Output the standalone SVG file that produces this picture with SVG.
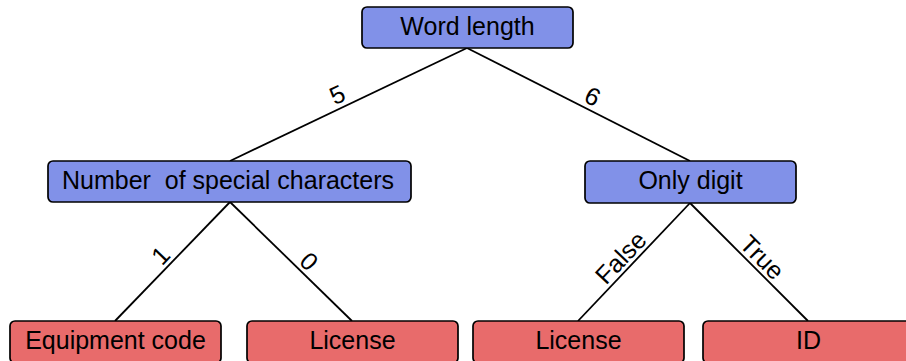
<svg xmlns="http://www.w3.org/2000/svg" width="906" height="361" viewBox="0 0 906 361">
  <style>
    .node rect { stroke: #000; stroke-width: 1.7; }
    .split rect { fill: #8191e8; }
    .leaf rect { fill: #e86b6b; }
    .node text, .lbl { font-family: "Liberation Sans", Arial, sans-serif; font-size: 25px; fill: #000; }
    .node text { text-anchor: middle; }
    .lbl { text-anchor: middle; }
    .edges line { stroke: #000; stroke-width: 1.8; }
  </style>

  <!-- connectors with their branch labels -->
  <g id="edges" class="edges">
    <line x1="467" y1="48" x2="230" y2="161"/>
    <line x1="467" y1="48" x2="690" y2="161"/>
    <line x1="230" y1="202" x2="115" y2="321"/>
    <line x1="230" y1="202" x2="352" y2="321"/>
    <line x1="690" y1="203" x2="578" y2="321"/>
    <line x1="690" y1="203" x2="808" y2="321"/>
    <text class="lbl" transform="translate(348.5,104.5) rotate(-25.5)" x="-6" y="-5">5</text>
    <text class="lbl" transform="translate(578.5,104.5) rotate(26.9)" x="9" y="-5">6</text>
    <text class="lbl" transform="translate(172.5,261.5) rotate(-46)" x="-4" y="-4">1</text>
    <text class="lbl" transform="translate(291,261.5) rotate(44.3)" x="13" y="-4">0</text>
    <text class="lbl" transform="translate(634,262) rotate(-46.5)" x="-6" y="-4">False</text>
    <text class="lbl" transform="translate(749,262) rotate(45)" x="6" y="-4">True</text>
  </g>

  <!-- decision nodes -->
  <g id="word-length" class="node split">
    <rect x="362" y="7" width="211" height="41" rx="5"/>
    <text x="467.5" y="35">Word length</text>
  </g>
  <g id="special-chars" class="node split">
    <rect x="48" y="161" width="363" height="41" rx="5"/>
    <text x="228" y="189" xml:space="preserve">Number  of special characters</text>
  </g>
  <g id="only-digit" class="node split">
    <rect x="585" y="161" width="211" height="42" rx="5"/>
    <text x="690.5" y="189">Only digit</text>
  </g>

  <!-- leaf nodes -->
  <g id="equipment-code" class="node leaf">
    <rect x="10" y="321" width="211" height="42" rx="5"/>
    <text x="115.5" y="349">Equipment code</text>
  </g>
  <g id="license-a" class="node leaf">
    <rect x="247" y="321" width="211" height="42" rx="5"/>
    <text x="352.5" y="349">License</text>
  </g>
  <g id="license-b" class="node leaf">
    <rect x="473" y="321" width="211" height="42" rx="5"/>
    <text x="578.5" y="349">License</text>
  </g>
  <g id="id" class="node leaf">
    <rect x="703" y="321" width="211" height="42" rx="5"/>
    <text x="808.5" y="349">ID</text>
  </g>
</svg>
